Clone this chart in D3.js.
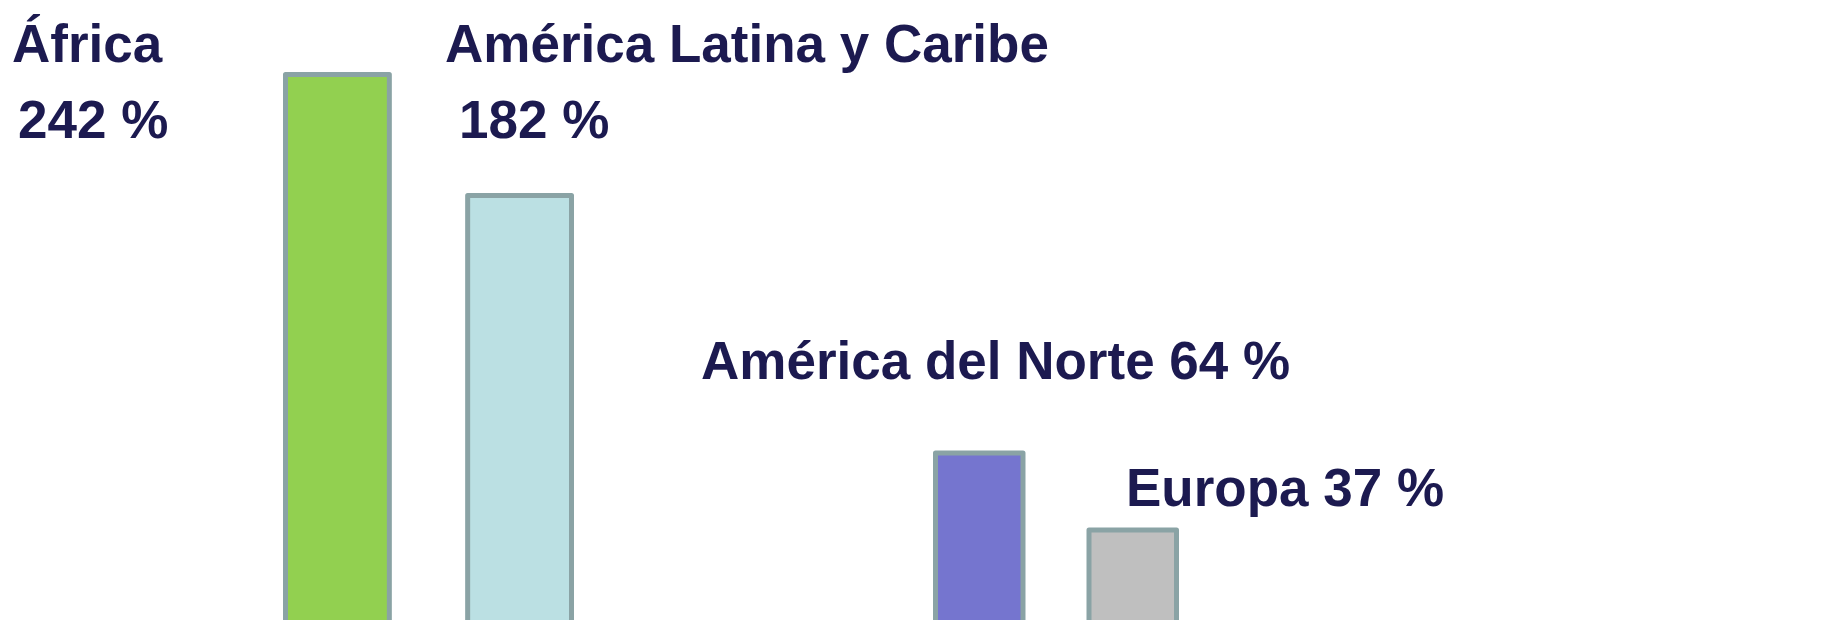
<!DOCTYPE html>
<html>
<head>
<meta charset="utf-8">
<script src="https://cdn.jsdelivr.net/npm/d3@7"></script>
<style>
    body { margin: 0; background: #ffffff; }
    svg { display: block; }
    .label { font-family: "Liberation Sans", Arial, sans-serif; font-weight: bold; fill: #1c1a50; }
</style>
</head>
<body>
<div id="chart"></div>
<script>
let regions = ["África", "América Latina y Caribe", "América del Norte", "Europa"]
let growth = [242, 182, 64, 37]
let groupOf = ["sur", "sur", "norte", "norte"]
// bar heights as drawn on the slide (arbitrary units)
let barHeights = [257, 202, 85, 50]

let colors = {
    green: "#92d050",
    lightBlue: "#bbe0e3",
    purple: "#7575cf",
    grey: "#bfbfbf",
    edge: "#8aa3a5"
}
let fills = [colors.green, colors.lightBlue, colors.purple, colors.grey]

let width = 1822
let height = 620
let sw = 5

let svg = d3.select("#chart")
    .append("svg")
    .attr("width", width)
    .attr("height", height)

// each group of bars sits in its own stretch of the slide
let groupRange = {
    sur: [283, 574],
    norte: [933, 1179]
}

let inner = {}
Object.keys(groupRange).forEach(g => {
    let members = regions.filter((r, i) => groupOf[i] == g)
    inner[g] = d3.scaleBand()
        .domain(members)
        .range([groupRange[g][0] + sw / 2, groupRange[g][1] - sw / 2])
        .paddingInner(0.43)
        .paddingOuter(0)
})

let y = d3.scaleLinear()
    .domain([0, 250])
    .range([640, 90])

let data = regions.map((r, i) => ({
    region: r,
    pct: growth[i],
    value: barHeights[i],
    group: groupOf[i],
    fill: fills[i]
}))

svg.append("g")
    .selectAll("rect")
    .data(data)
    .join("rect")
    .attr("x", d => inner[d.group](d.region))
    .attr("width", d => inner[d.group].bandwidth())
    .attr("y", d => y(d.value))
    .attr("height", d => y(0) - y(d.value))
    .attr("fill", d => d.fill)
    .attr("stroke", colors.edge)
    .attr("stroke-width", sw)
    .attr("stroke-linejoin", "round")

// label placement on the slide: [name x, name baseline, pct x, pct baseline]
let labelPos = [
    [12, 62, 18, 138],
    [445, 62, 459, 138],
    [701, 379],
    [1126, 506]
]

let fs = 53

data.forEach((d, i) => {
    let p = labelPos[i]
    if (p.length == 4) {
        svg.append("text")
            .attr("class", "label")
            .attr("x", p[0])
            .attr("y", p[1])
            .attr("font-size", fs)
            .text(d.region)
        svg.append("text")
            .attr("class", "label")
            .attr("x", p[2])
            .attr("y", p[3])
            .attr("font-size", fs)
            .text(d.pct + " %")
    } else {
        svg.append("text")
            .attr("class", "label")
            .attr("x", p[0])
            .attr("y", p[1])
            .attr("font-size", fs)
            .text(d.region + " " + d.pct + " %")
    }
})
</script>
</body>
</html>
